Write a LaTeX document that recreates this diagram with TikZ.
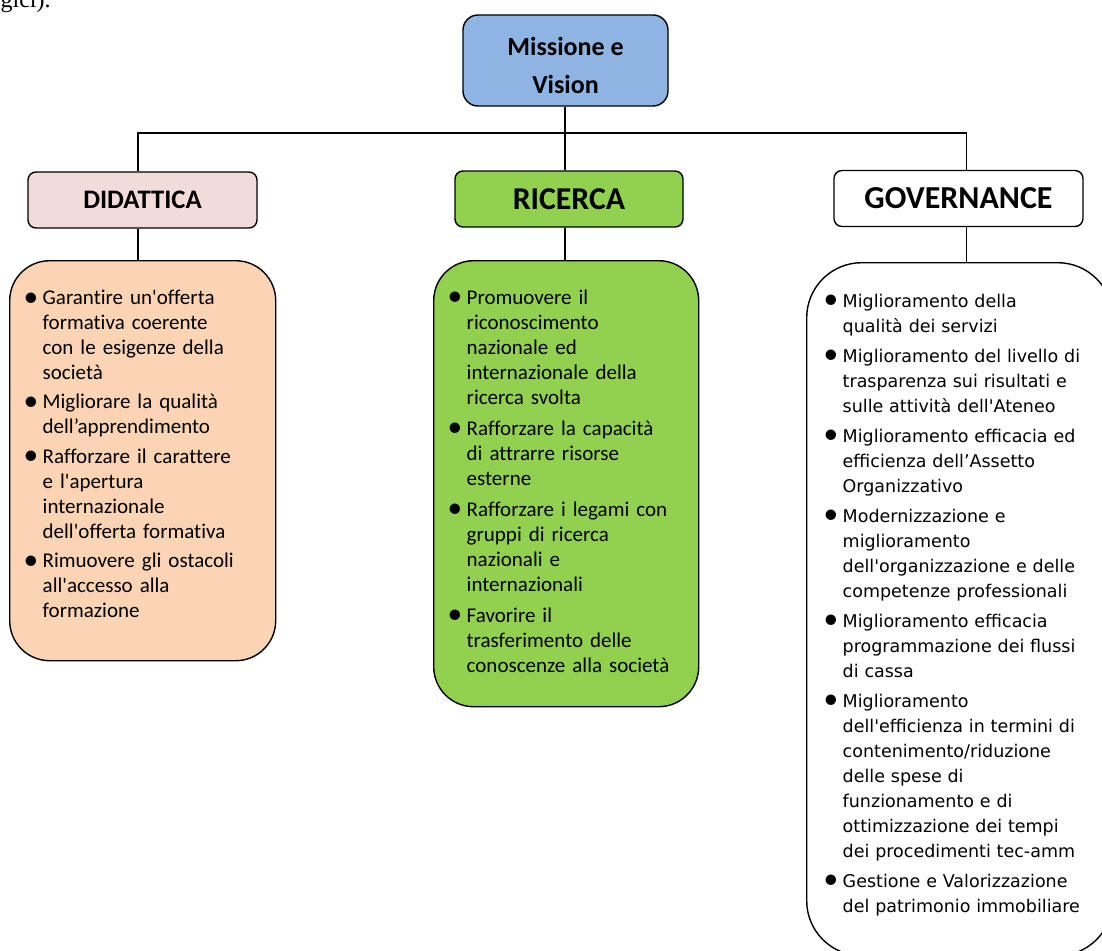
\documentclass[tikz,border=0pt]{standalone}
\usepackage{fontspec}
\newfontfamily\calibri{Carlito}[Ligatures=NoCommon]
\newfontfamily\wide{DejaVu Sans}
\newfontfamily\serifa{Liberation Serif}
\usepackage{tikz}
\usetikzlibrary{positioning,calc}
\definecolor{myblue}{RGB}{141,180,226}
\definecolor{mypink}{RGB}{242,220,219}
\definecolor{mypeach}{RGB}{251,212,180}
\definecolor{mygreen}{RGB}{146,208,80}
% bullet list used inside the boxes: [itemsep]{bullet raise}
\newcommand{\pallino}[1]{{\calibri\fontsize{21}{21}\selectfont\raisebox{#1}{\scalebox{1.4}{\textbullet}}}}
\newenvironment{punti}[2][4pt]{%
  \linewidth=\hsize
  \begin{list}{\pallino{#2}}{\leftmargin=19pt\labelwidth=19pt\labelsep=0pt
    \def\makelabel##1{##1\hfil}%
    \itemsep=#1\parsep=0pt\topsep=0pt\partopsep=0pt\rightmargin=0pt}\raggedright}
  {\end{list}}
% empty room under the list, so the text sits higher in its box
\newcommand{\sotto}[1]{\par\kern#1\nointerlineskip\hbox{}}

\begin{document}
\begin{tikzpicture}[
  x=1pt, y=-1pt,
  line width=1.2pt,
  testa/.style={
    draw,
    line width=1.4pt,
    rounded corners=8pt,
    minimum height=56pt,
    minimum width=#1,
    inner sep=0pt
    },
  corpo/.style={
    draw,
    line width=1.4pt,
    rounded corners=40pt,
    anchor=north west,
    text width=#1,
    inner xsep=14pt,
    font=\calibri\fontsize{21}{25}\selectfont
  }
]
\useasboundingbox (0,0) rectangle (1102,950);

\node[anchor=base west, inner sep=0pt, font=\serifa\fontsize{24}{28}\selectfont]
  (frammento) at (0,8) {gici).};

% top of the tree
\node[testa=205pt, minimum height=91pt, rounded corners=15pt, fill=myblue,
  align=center, font=\calibri\bfseries\fontsize{26}{38}\selectfont]
  (missione) at (565.5,60.5) {\rule{0pt}{29pt}Missione e\\Vision};

% the three areas
\node[testa=229pt, fill=mypink, font=\calibri\bfseries\fontsize{26.7}{30}\selectfont]
  (didattica) at (142.5,200) {DIDATTICA};
\node[testa=228pt, fill=mygreen, font=\calibri\bfseries\fontsize{31.8}{36}\selectfont]
  (ricerca) at (569,199) {RICERCA};
\node[testa=249pt, fill=white, font=\calibri\bfseries\fontsize{32}{36}\selectfont]
  (governance) at (958.5,198.5) {GOVERNANCE};

% objectives
\node[corpo=238pt, fill=mypeach, minimum height=400pt]
  (obdidattica) at (9,260) {%
  \begin{punti}[4.3pt]{-1.7pt}
  \item Garantire un'offerta\\formativa coerente\\con le esigenze della\\società
  \item Migliorare la qualità\\dell’apprendimento
  \item Rafforzare il carattere\\e l'apertura\\internazionale\\dell'offerta formativa
  \item Rimuovere gli ostacoli\\all'accesso alla\\formazione
  \end{punti}
  \sotto{24pt}};

\node[corpo=237pt, fill=mygreen, minimum height=446pt]
  (obricerca) at (433,260) {%
  \begin{punti}[6pt]{-1.7pt}
  \item Promuovere il\\riconoscimento\\nazionale ed\\internazionale della\\ricerca svolta
  \item Rafforzare la capacità\\di attrarre risorse\\esterne
  \item Rafforzare i legami con\\gruppi di ricerca\\nazionali e\\internazionali
  \item Favorire il\\trasferimento delle\\conoscenze alla società
  \end{punti}
  \sotto{16pt}};

\node[corpo=272pt, inner xsep=17pt, fill=white, minimum height=693pt, rounded corners=55pt,
  font=\wide\fontsize{17.5}{25}\selectfont]
  (obgovernance) at (806,262) {%
  \begin{punti}[5pt]{-1.5pt}
  \item Miglioramento della\\qualità dei servizi
  \item Miglioramento del livello di\\trasparenza sui risultati e\\sulle attività dell'Ateneo
  \item Miglioramento efficacia ed\\efficienza dell’Assetto\\Organizzativo
  \item Modernizzazione e\\miglioramento\\dell'organizzazione e delle\\competenze professionali
  \item Miglioramento efficacia\\programmazione dei flussi\\di cassa
  \item Miglioramento\\dell'efficienza in termini di\\contenimento/riduzione\\delle spese di\\funzionamento e di\\ottimizzazione dei tempi\\dei procedimenti tec-amm
  \item Gestione e Valorizzazione\\del patrimonio immobiliare
  \end{punti}
  \sotto{20pt}};

% connectors
\coordinate (snodo) at (565,133);
\draw (missione.south -| snodo) -- (snodo);
\draw ([xshift=-4.5pt]didattica.north) |- (snodo) -| ([xshift=8pt]governance.north);
\draw ([xshift=-4pt]ricerca.north) -- ([xshift=-4pt]ricerca.north |- snodo);
\draw ([xshift=-4.5pt]didattica.south) -- ([xshift=-4.5pt]didattica.south |- obdidattica.north);
\draw ([xshift=-4pt]ricerca.south) -- ([xshift=-4pt]ricerca.south |- obricerca.north);
\draw ([xshift=8pt]governance.south) -- ([xshift=8pt]governance.south |- obgovernance.north);

\end{tikzpicture}
\end{document}
